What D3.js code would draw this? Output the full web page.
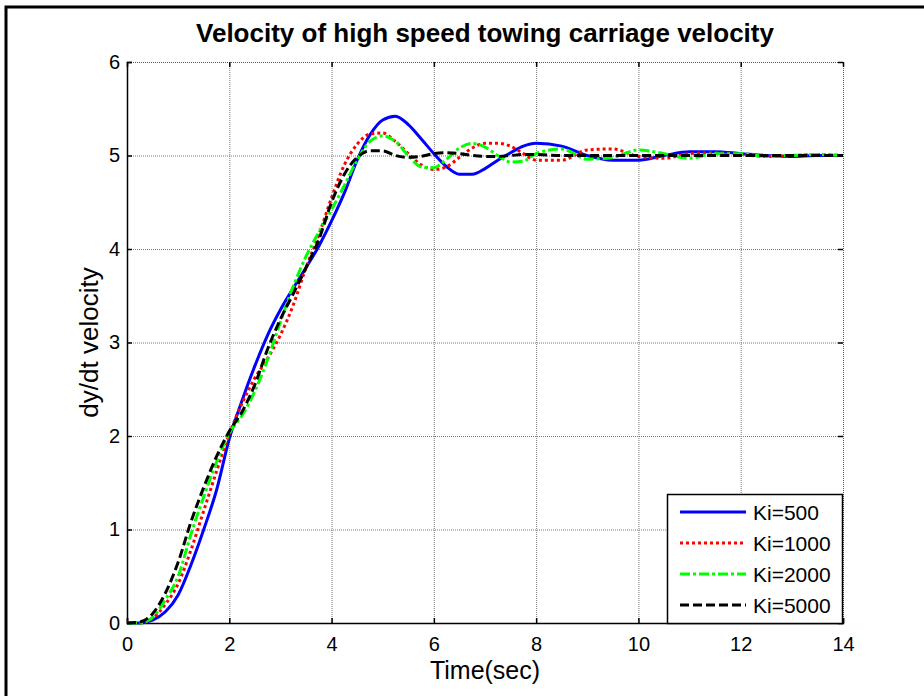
<!DOCTYPE html>
<html><head><meta charset="utf-8">
<script src="https://cdn.jsdelivr.net/npm/d3@7"></script>
<style>html,body{margin:0;padding:0;background:#fff;}svg{display:block;font-family:"Liberation Sans",Arial,sans-serif;}</style>
</head><body>
<script>
const title = "Velocity of high speed towing carriage velocity";
const xLabel = "Time(sec)";
const yLabel = "dy/dt velocity";
const xTicks = [0,2,4,6,8,10,12,14];
const yTicks = [0,1,2,3,4,5,6];
const seriesNames = ["Ki=500","Ki=1000","Ki=2000","Ki=5000"];
const time = [0,0.25,0.5,0.75,1,1.25,1.5,1.75,2,2.25,2.5,2.75,3,3.25,3.5,3.75,4,4.25,4.5,4.75,5,5.25,5.5,5.75,6,6.25,6.5,6.75,7,7.25,7.5,7.75,8,8.5,9,9.5,10,10.5,11,11.5,12,12.5,13,13.5,14];
const ki500  = [0,0,0.03,0.12,0.3,0.62,1.0,1.42,1.97,2.38,2.75,3.08,3.35,3.58,3.8,4.03,4.3,4.6,4.95,5.22,5.38,5.42,5.33,5.18,5.02,4.88,4.8,4.8,4.86,4.95,5.03,5.1,5.13,5.1,5.0,4.95,4.95,5.0,5.04,5.04,5.02,5.0,4.99,5.0,5.0];
const ki1000 = [0,0,0.05,0.2,0.42,0.78,1.2,1.62,2.02,2.35,2.62,2.83,3.08,3.4,3.8,4.15,4.55,4.9,5.12,5.23,5.24,5.15,5.02,4.9,4.85,4.88,4.98,5.08,5.13,5.13,5.1,5.02,4.95,4.95,5.06,5.07,4.99,4.97,5.02,5.03,5.01,4.99,5.0,5.01,5.0];
const ki2000 = [0,0,0.06,0.25,0.5,0.95,1.35,1.72,2.03,2.22,2.48,2.82,3.22,3.6,3.92,4.18,4.42,4.68,4.95,5.15,5.21,5.15,5.0,4.88,4.87,4.96,5.08,5.13,5.09,5.0,4.93,4.94,5.02,5.07,4.96,4.98,5.06,5.02,4.97,5.02,5.02,4.99,5.0,5.01,5.0];
const ki5000 = [0,0.01,0.1,0.32,0.65,1.08,1.45,1.78,2.05,2.26,2.55,2.93,3.25,3.52,3.8,4.1,4.5,4.8,4.98,5.05,5.05,5.0,4.98,4.99,5.02,5.03,5.02,5.0,4.99,4.99,5.0,5.01,5.01,5.0,5.0,5.0,5.0,5.0,5.0,5.0,5.0,5.0,5.0,5.0,5.0];
const seriesValues = [ki500, ki1000, ki2000, ki5000];
const colors = ["#0000ff","#ff0000","#00ff00","#000000"];
const dashes = [null,"3,3","10,3,3,3","9,4"];

const W = 924, H = 696;
const m = {left:127, right:843, top:62, bottom:623};
const svg = d3.select("body").append("svg").attr("width",W).attr("height",H);
svg.append("rect").attr("width",W).attr("height",H).attr("fill","#fff");
// outer frame
svg.append("rect").attr("x",6).attr("y",7).attr("width",940).attr("height",720)
  .attr("fill","none").attr("stroke","#000").attr("stroke-width",3);

const x = d3.scaleLinear().domain([0,14]).range([m.left,m.right]);
const y = d3.scaleLinear().domain([0,6]).range([m.bottom,m.top]);

// grid
const g = svg.append("g");
g.selectAll(".gx").data(xTicks.slice(1,-1)).join("line")
  .attr("x1",d=>x(d)+0.5).attr("x2",d=>x(d)+0.5).attr("y1",m.top).attr("y2",m.bottom)
  .attr("stroke","#7a7a7a").attr("stroke-width",1).attr("stroke-dasharray","1,1");
g.selectAll(".gy").data(yTicks.slice(1,-1)).join("line")
  .attr("y1",d=>y(d)+0.5).attr("y2",d=>y(d)+0.5).attr("x1",m.left).attr("x2",m.right)
  .attr("stroke","#7a7a7a").attr("stroke-width",1).attr("stroke-dasharray","1,1");
// top/right dotted box edges
svg.append("line").attr("x1",m.left).attr("x2",m.right).attr("y1",m.top+0.5).attr("y2",m.top+0.5)
  .attr("stroke","#555").attr("stroke-dasharray","1,1");
svg.append("line").attr("x1",m.right+0.5).attr("x2",m.right+0.5).attr("y1",m.top).attr("y2",m.bottom)
  .attr("stroke","#555").attr("stroke-dasharray","1,1");

// axes
const xAxis = d3.axisBottom(x).tickValues(xTicks).tickFormat(d3.format("d")).tickSize(-5).tickPadding(14);
const yAxis = d3.axisLeft(y).tickValues(yTicks).tickFormat(d3.format("d")).tickSize(-5).tickPadding(7);
const gx = svg.append("g").attr("transform",`translate(0,${m.bottom})`).call(xAxis);
const gy = svg.append("g").attr("transform",`translate(${m.left},0)`).call(yAxis);
[gx,gy].forEach(a=>{
  a.select(".domain").attr("stroke","#000").attr("stroke-width",1.5);
  a.selectAll(".tick line").attr("stroke","#000").attr("stroke-width",1.5);
  a.selectAll("text").attr("font-size",20).attr("fill","#000").attr("font-family","Liberation Sans, Arial, sans-serif");
});
// top and right ticks
const gt = svg.append("g").attr("transform",`translate(0,${m.top})`).call(d3.axisTop(x).tickValues(xTicks).tickSize(-5).tickFormat(""));
const gr = svg.append("g").attr("transform",`translate(${m.right},0)`).call(d3.axisRight(y).tickValues(yTicks).tickSize(-5).tickFormat(""));
[gt,gr].forEach(a=>{a.select(".domain").remove();a.selectAll(".tick line").attr("stroke","#000").attr("stroke-width",1.5);});

// lines
const line = d3.line().x((d,i)=>x(time[i])).y(d=>y(d)).curve(d3.curveMonotoneX);
const clip = svg.append("clipPath").attr("id","clip").append("rect")
  .attr("x",m.left-2).attr("y",m.top).attr("width",m.right-m.left+2).attr("height",m.bottom-m.top+2);
const lg = svg.append("g").attr("clip-path","url(#clip)");
seriesValues.forEach((vals,k)=>{
  lg.append("path").datum(vals).attr("d",line).attr("fill","none")
    .attr("stroke",colors[k]).attr("stroke-width",3)
    .attr("stroke-dasharray",dashes[k]);
});

// legend
const leg = svg.append("g");
leg.append("rect").attr("x",667.5).attr("y",494.5).attr("width",175).attr("height",129)
  .attr("fill","#fff").attr("stroke","#000").attr("stroke-width",1.5);
const rowY = [512,543,574,605];
seriesNames.forEach((n,k)=>{
  leg.append("line").attr("x1",680).attr("x2",746).attr("y1",rowY[k]).attr("y2",rowY[k])
    .attr("stroke",colors[k]).attr("stroke-width",3).attr("stroke-dasharray",dashes[k]);
  leg.append("text").attr("x",753).attr("y",rowY[k]+8).attr("font-size",21).text(n);
});

// title and labels
svg.append("text").attr("x",(m.left+m.right)/2).attr("y",42).attr("text-anchor","middle")
  .attr("font-size",26).attr("font-weight","bold").text(title);
svg.append("text").attr("x",(m.left+m.right)/2).attr("y",679).attr("text-anchor","middle")
  .attr("font-size",25).text(xLabel);
svg.append("text").attr("transform",`translate(98,${(m.top+m.bottom)/2}) rotate(-90)`).attr("text-anchor","middle")
  .attr("font-size",26).text(yLabel);
</script>
</body></html>
